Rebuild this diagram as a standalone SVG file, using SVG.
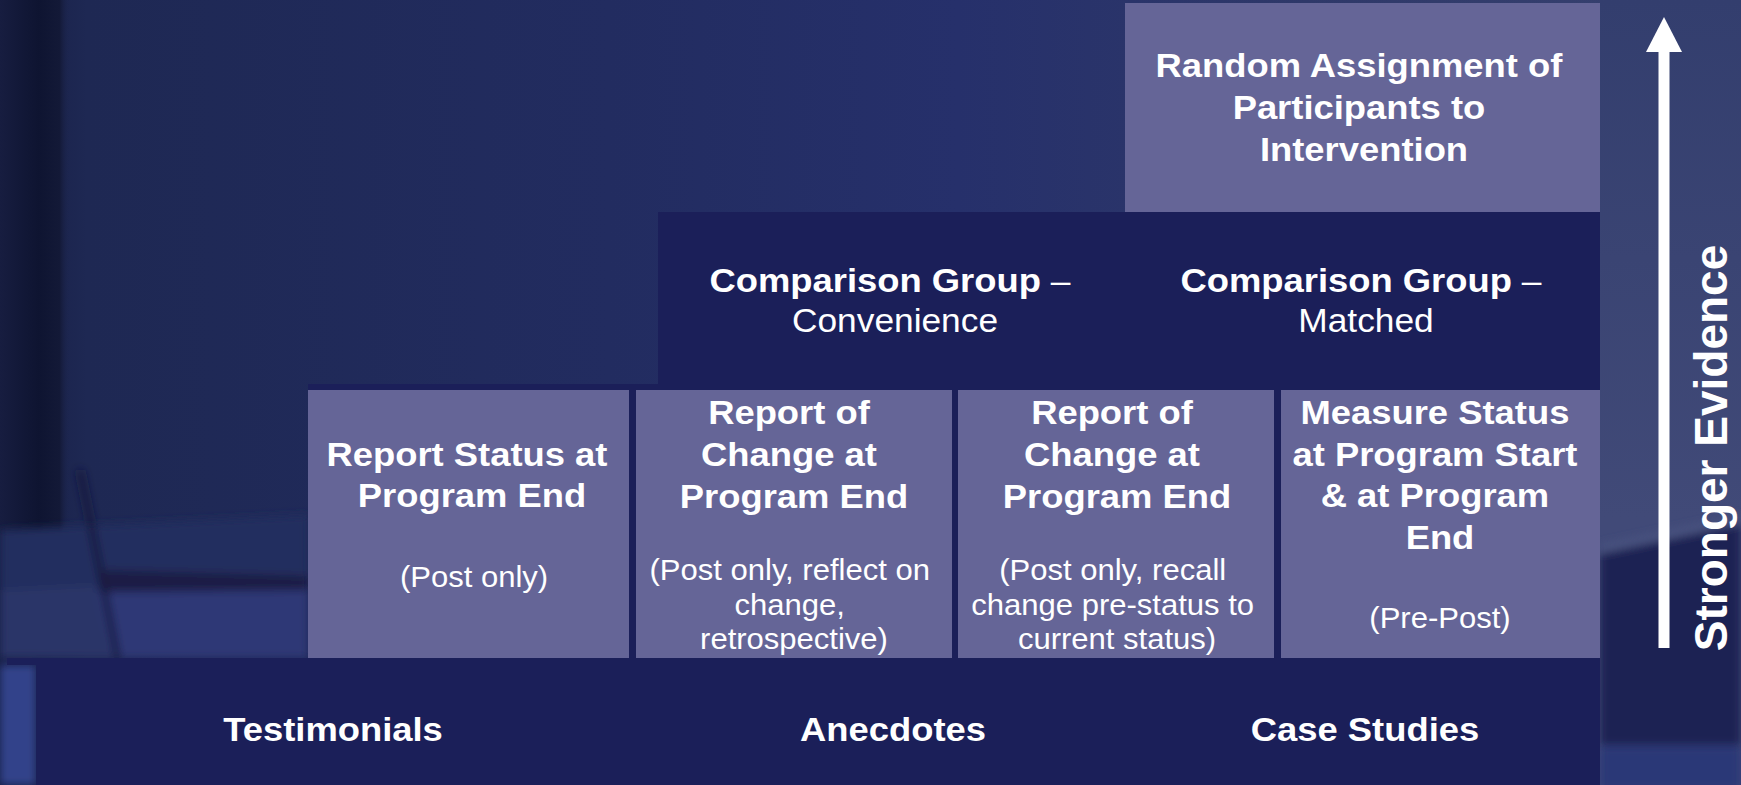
<svg xmlns="http://www.w3.org/2000/svg" width="1741" height="785" viewBox="0 0 1741 785">
  <defs>
    <style>
      .light { fill: #656597; }
      .dark { fill: #1b1f59; }
      .b { font-family: "Liberation Sans", Arial, sans-serif; font-weight: bold; font-size: 34px; fill: #ffffff; text-anchor: middle; }
      .r { font-family: "Liberation Sans", Arial, sans-serif; font-weight: normal; font-size: 29px; fill: #ffffff; text-anchor: middle; }
      .rc { font-weight: normal; font-size: 33px; }
      .side { font-family: "Liberation Sans", Arial, sans-serif; font-weight: bold; font-size: 46px; fill: #ffffff; text-anchor: middle; }
    </style>
    <linearGradient id="bgH" x1="0" y1="0" x2="1" y2="0">
      <stop offset="0" stop-color="#161d44"/>
      <stop offset="0.05" stop-color="#1e2853"/>
      <stop offset="0.35" stop-color="#222c60"/>
      <stop offset="0.55" stop-color="#26306b"/>
      <stop offset="0.75" stop-color="#2e3869"/>
      <stop offset="1" stop-color="#384270"/>
    </linearGradient>
    <linearGradient id="leftEdge" x1="0" y1="0" x2="1" y2="0">
      <stop offset="0" stop-color="#171d40"/>
      <stop offset="0.55" stop-color="#0e1431"/>
      <stop offset="0.85" stop-color="#131937"/>
      <stop offset="1" stop-color="#1d2650" stop-opacity="0"/>
    </linearGradient>
    <linearGradient id="rightSide" x1="0" y1="0" x2="0" y2="1">
      <stop offset="0" stop-color="#333e6e"/>
      <stop offset="0.66" stop-color="#414a78"/>
    </linearGradient>
    <filter id="soft" x="-20%" y="-20%" width="140%" height="140%">
      <feGaussianBlur stdDeviation="4"/>
    </filter>
    <marker id="arrowHead" markerUnits="userSpaceOnUse" markerWidth="35" markerHeight="36" viewBox="0 0 35 36" refX="0" refY="18" orient="auto">
      <path d="M0,0 L35,18 L0,36 z" fill="#ffffff"/>
    </marker>
  </defs>

  <!-- background -->
  <g id="background">
    <rect x="0" y="0" width="1741" height="785" fill="url(#bgH)"/>
    <rect x="0" y="0" width="70" height="540" fill="url(#leftEdge)"/>
    <!-- lower-left streaks -->
    <g filter="url(#soft)">
      <polygon points="0,530 308,515 308,658 0,658" fill="#242d5e"/>
      <polygon points="95,592 308,586 308,658 112,658" fill="#2d3776"/>
      <polygon points="0,590 95,585 112,658 0,658" fill="#2a3468"/>
      <polygon points="100,570 308,576 308,590 104,592" fill="#1a1e44"/>
      <line x1="80" y1="470" x2="118" y2="660" stroke="#12173b" stroke-width="6"/>
      <rect x="0" y="665" width="36" height="120" fill="#33428a"/>
    </g>
    <!-- right strip -->
    <rect x="1600" y="0" width="141" height="785" fill="url(#rightSide)"/>
    <g filter="url(#soft)">
      <polygon points="1600,552 1741,522 1741,745 1600,745" fill="#1d2253"/>
      <polygon points="1600,545 1741,515 1741,524 1600,554" fill="#4a5380"/>
      <rect x="1600" y="746" width="141" height="45" fill="#2b3877"/>
    </g>
  </g>

  <!-- top tier -->
  <g id="node-random">
    <rect class="light" x="1125" y="3" width="475" height="209"/>
    <text class="b" transform="translate(1364 0) scale(1.07 1)">
      <tspan x="0" y="77">Random Assignment of</tspan>
      <tspan x="0" y="119">Participants to</tspan>
      <tspan x="0" y="161">Intervention</tspan>
    </text>
  </g>

  <!-- comparison tier -->
  <g id="node-comparison">
    <rect class="dark" x="658" y="212" width="942" height="177"/>
    <text class="b" transform="translate(895 0) scale(1.07 1)">
      <tspan x="0" y="292">Comparison Group</tspan><tspan class="rc"> –</tspan>
      <tspan class="rc" x="0" y="332">Convenience</tspan>
    </text>
    <text class="b" transform="translate(1366 0) scale(1.07 1)">
      <tspan x="0" y="292">Comparison Group</tspan><tspan class="rc"> –</tspan>
      <tspan class="rc" x="0" y="332">Matched</tspan>
    </text>
  </g>

  <!-- backing strip behind the report/measure tier -->
  <g id="row-backing">
    <rect class="dark" x="308" y="384" width="1292" height="279"/>
  </g>

  <g id="node-post-status">
    <rect class="light" x="308" y="390" width="321" height="268"/>
    <text class="b" transform="translate(472 0) scale(1.07 1)">
      <tspan x="0" y="466">Report Status at</tspan>
      <tspan x="0" y="507">Program End</tspan>
    </text>
    <text class="r" transform="translate(474 0) scale(1.07 1)">
      <tspan x="0" y="587">(Post only)</tspan>
    </text>
  </g>

  <g id="node-retrospective">
    <rect class="light" x="636" y="390" width="316" height="268"/>
    <text class="b" transform="translate(794 0) scale(1.07 1)">
      <tspan x="0" y="424">Report of</tspan>
      <tspan x="0" y="466">Change at</tspan>
      <tspan x="0" y="508">Program End</tspan>
    </text>
    <text class="r" transform="translate(794 0) scale(1.07 1)">
      <tspan x="0" y="580">(Post only, reflect on</tspan>
      <tspan x="0" y="615">change,</tspan>
      <tspan x="0" y="649">retrospective)</tspan>
    </text>
  </g>

  <g id="node-recall">
    <rect class="light" x="958" y="390" width="316" height="268"/>
    <text class="b" transform="translate(1117 0) scale(1.07 1)">
      <tspan x="0" y="424">Report of</tspan>
      <tspan x="0" y="466">Change at</tspan>
      <tspan x="0" y="508">Program End</tspan>
    </text>
    <text class="r" transform="translate(1117 0) scale(1.07 1)">
      <tspan x="0" y="580">(Post only, recall</tspan>
      <tspan x="0" y="615">change pre-status to</tspan>
      <tspan x="0" y="649">current status)</tspan>
    </text>
  </g>

  <g id="node-pre-post">
    <rect class="light" x="1281" y="390" width="319" height="268"/>
    <text class="b" transform="translate(1440 0) scale(1.07 1)">
      <tspan x="0" y="424">Measure Status</tspan>
      <tspan x="0" y="466">at Program Start</tspan>
      <tspan x="0" y="507">&amp; at Program</tspan>
      <tspan x="0" y="549">End</tspan>
    </text>
    <text class="r" transform="translate(1440 0) scale(1.07 1)">
      <tspan x="0" y="628">(Pre-Post)</tspan>
    </text>
  </g>

  <!-- base tier -->
  <g id="node-base">
    <rect class="dark" x="7" y="658" width="1593" height="7"/>
    <rect class="dark" x="36" y="658" width="1564" height="127"/>
    <text class="b" transform="translate(333 0) scale(1.07 1)"><tspan x="0" y="741">Testimonials</tspan></text>
    <text class="b" transform="translate(893 0) scale(1.07 1)"><tspan x="0" y="741">Anecdotes</tspan></text>
    <text class="b" transform="translate(1365 0) scale(1.07 1)"><tspan x="0" y="741">Case Studies</tspan></text>
  </g>

  <!-- evidence axis -->
  <g id="connectors">
    <line x1="1664" y1="648" x2="1664" y2="52" stroke="#ffffff" stroke-width="11" marker-end="url(#arrowHead)"/>
  </g>
  <g id="node-axis-label">
    <text class="side" transform="translate(1727 448) rotate(-90)">Stronger Evidence</text>
  </g>
</svg>
